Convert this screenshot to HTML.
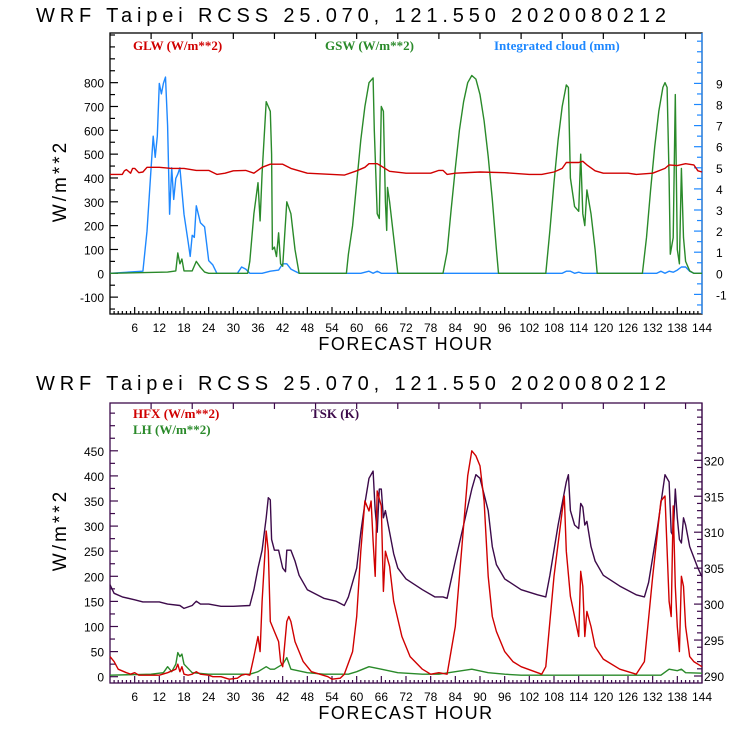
<!DOCTYPE html>
<html><head><meta charset="utf-8"><style>
html,body{margin:0;padding:0;background:#fff;width:740px;height:740px;overflow:hidden}
svg text{font-family:"Liberation Sans",sans-serif}
.lg{font-family:"Liberation Serif",serif;font-weight:bold;font-size:13px}
</style></head><body>
<svg id="chart" width="740" height="740" viewBox="0 0 740 740" xmlns="http://www.w3.org/2000/svg">
<text x="36" y="22" font-size="20" textLength="630" lengthAdjust="spacing">WRF  Taipei RCSS   25.070, 121.550  2020080212</text>
<text x="36" y="390" font-size="20" textLength="630" lengthAdjust="spacing">WRF  Taipei RCSS   25.070, 121.550  2020080212</text>
<g id="topPanel"></g>
<g id="botPanel"></g>
<text class="lg" x="133" y="50" fill="#d00000">GLW (W/m**2)</text>
<text class="lg" x="325" y="50" fill="#2a8a2a">GSW (W/m**2)</text>
<text class="lg" x="494" y="50" fill="#1e88ff">Integrated cloud (mm)</text>
<text class="lg" x="133" y="418" fill="#d00000">HFX (W/m**2)</text>
<text class="lg" x="133" y="434" fill="#2a8a2a">LH  (W/m**2)</text>
<text class="lg" x="311" y="418" fill="#3c0a4a">TSK (K)</text>
<text transform="translate(66,181) rotate(-90)" text-anchor="middle" font-size="19" letter-spacing="3">W/m**2</text>
<text transform="translate(66,530) rotate(-90)" text-anchor="middle" font-size="19" letter-spacing="3">W/m**2</text>
<text x="406" y="350" text-anchor="middle" font-size="18" letter-spacing="1.5">FORECAST HOUR</text>
<text x="406" y="719" text-anchor="middle" font-size="18" letter-spacing="1.5">FORECAST HOUR</text>
</svg>
<script>
const glwH=[0,3,3.5,4,5,5.5,6,7,8,9,12,15,18,21,24,26,28,30,33,35,37,39,42,44,48,54,57,60,62,63,65,66,68,72,78,80,81,82,84,90,96,102,105,108,110,111,114,115,116,118,120,126,128,132,135,136,138,140,142,143,144];
const glwV=[415,415,430,435,420,440,440,422,425,445,445,440,440,432,432,415,420,430,432,420,445,458,458,440,420,415,412,430,445,460,460,450,428,420,420,432,432,415,420,425,422,415,415,425,440,465,465,470,455,430,420,420,415,420,440,455,452,460,455,430,425];
const gswH=[0,14,16,16.5,17,17.5,18,20,21,22,23,24,33.5,34,35,36,36.5,37,38,38.5,39,39.3,39.5,40,40.5,41,41.5,42,43,44,45,46,57.5,58,59,60,61,62,63,64,64.3,65,65.5,66,66.5,67,67.3,67.5,68,69,70,81,82,83,84,85,86,87,88,89,90,91,92,93,94,94.5,106,107,108,109,110,111,111.5,112,113,114,114.5,115,115.5,116,117,118,118.5,129.5,130.5,131.5,132.5,133.5,134.5,135,135.5,136,136.3,137,137.5,138,138.5,139,139.5,140,141,142,144];
const gswV=[0,5,10,85,40,60,10,10,50,25,5,0,0,50,250,380,220,420,720,700,680,500,100,110,70,170,40,30,300,250,100,0,0,80,200,380,560,700,800,820,600,250,230,700,680,300,180,360,300,150,0,0,90,270,440,600,720,800,830,815,750,640,490,310,100,0,0,180,380,560,700,790,780,400,280,260,500,250,200,350,250,100,0,0,150,350,530,680,780,800,780,400,80,150,750,100,40,440,150,50,10,0,0];
const cldH=[0,8,9,10,10.5,11,11.5,12,12.5,13,13.5,14,14.5,15,15.5,16,16.5,17,18,19,19.5,20,20.5,21,22,23,24,25,26,31,32,33,34,37,39,41,42,43,44,45,46,61,63,64,65,66,110,111,112,113,114,115,133,134,135,136,137,138,139,140,141,142,144];
const cldV=[0,0.1,2,5,6.5,5.5,6.5,9,8.5,9,9.3,7,2.8,5,3.5,4.5,4.7,5,2.8,1.5,0.8,1.8,1.7,3.2,2.4,2.2,0.6,0.4,0,0,0.3,0.2,0,0,0.1,0.15,0.45,0.45,0.2,0.1,0,0,0.1,0,0.1,0,0,0.1,0.1,0,0.05,0,0,0.1,0,0.1,0.05,0.15,0.3,0.3,0.1,0,0];
const hfxH=[0,1,2,4,5,6,7,12,14,16,16.5,17,17.5,18,19,20,21,22,24,25,27,29,31,32,33,34,35,36,36.5,37,38,38.5,39,40,41,41.5,42,43,43.5,44,45,47,49,51,53,54,56,57,59,60,61,62,63,63.5,64,64.5,65,66,66.5,67,68,69,71,73,76,78,80,82,84,86,87,88,89,90,91,92,93,94,96,98,100,105,106,108,110,110.5,111,112,113,114,114.5,115,115.5,116,117,118,120,124,128,130,132,134,135,136,136.5,137,137.5,138,138.5,139,139.5,140,141,142,144];
const hfxV=[40,30,15,8,5,8,3,3,8,15,25,10,20,5,3,5,10,5,3,0,0,-5,-3,3,5,3,40,80,50,150,290,250,110,90,70,30,20,110,120,110,70,30,10,5,0,-5,-3,5,50,120,250,350,330,350,270,200,370,340,170,250,220,150,80,40,15,5,8,5,100,300,400,450,440,420,350,200,120,90,50,30,20,5,20,200,330,360,250,160,120,80,210,180,80,130,100,60,35,15,5,30,200,350,360,150,120,340,180,100,50,200,180,100,40,30,20];
const lhH=[0,10,13,14,15,16,16.5,17,17.5,18,20,24,34,36,38,39,40,42,43,44,48,52,58,60,63,66,70,76,80,84,88,92,96,100,134,136,138,139,140,144];
const lhV=[3,5,8,20,10,25,48,40,45,25,8,5,5,10,20,15,15,25,38,15,8,5,5,10,20,15,8,5,5,10,15,8,5,3,3,15,12,15,8,7];
const tskH=[0,1,3,6,8,12,14,17,18,20,21,22,24,27,30,34,35,36,37,38,38.5,39,39.3,40,41,42,42.7,43,44,45,46,48,52,55,57,58,60,61,62,63,64,64.5,65,65.5,66,66.5,67,68,69,70,72,76,79,81,82,84,86,88,89,90,92,93,94,96,100,104,106,107,109,111,111.5,112,113,114,114.5,115,115.5,116,117,118,120,124,128,130,131,133,135,136,136.5,137,137.5,138,138.5,139,139.5,140,141,142,143,144];
const tskV=[302.7,301.5,301,300.6,300.3,300.3,300,299.8,299.4,299.8,300.4,300,300,299.7,299.7,299.8,302,305,307.5,312,314.8,314.5,309,307.5,307.5,305,304.5,307.5,307.5,306,304,302,300.8,300.4,299.8,301,305,310,314,317.5,318.5,313,310,316,316,312,313,310,307,305,303.5,302,301,301,300.8,306,311,316,318,317.5,313,308,305.5,303.5,302,301.3,301,304,311,317,318,313,311,310.5,314,313.5,311,311.5,308,306,304,302.5,301.3,301,303,310,318,317,310,309.5,316,312,309,308.5,312,311,308,306.5,305,303.8];
const xTicks=[6,12,18,24,30,36,42,48,54,60,66,72,78,84,90,96,102,108,114,120,126,132,138,144];
const topLeftTicks=[-100,0,100,200,300,400,500,600,700,800];
const topRightTicks=[-1,0,1,2,3,4,5,6,7,8,9];
const botLeftTicks=[0,50,100,150,200,250,300,350,400,450];
const botRightTicks=[290,295,300,305,310,315,320];

const NS='http://www.w3.org/2000/svg';
const X0=110,X1=702;
const xs=h=>X0+h*(X1-X0)/144;
const yTopL=v=>273.3-v*0.2383;
const yTopR=v=>273.3-v*21.1;
const yBotL=v=>676.7-v*0.502;
const yBotR=v=>676-(v-290)*7.19;
function el(p,t,a){const e=document.createElementNS(NS,t);for(const k in a)e.setAttribute(k,a[k]);p.appendChild(e);return e;}
function line(p,x1,y1,x2,y2,c,n){const l=el(p,'line',{x1:x1,y1:y1,x2:x2,y2:y2,stroke:c,'stroke-width':1.2});

return l;}
function txt(p,x,y,s,anchor,c,n){const t=el(p,'text',{x:x,y:y,'text-anchor':anchor,'font-size':12,fill:c,'font-family':'Liberation Mono, monospace'});t.textContent=s;

return t;}
function series(p,H,V,fy,c,n){const m=Math.min(H.length,V.length);const pts=[];for(let i=0;i<m;i++)pts.push(xs(H[i]).toFixed(1)+','+fy(V[i]).toFixed(1));
const pl=el(p,'polyline',{points:pts.join(' '),fill:'none',stroke:c,'stroke-width':1.4,'stroke-linejoin':'round'});

}
function panel(g,ty,by,frame,rc,lTicks,fyL,lMinorStep,lMin,lMax,rTicks,fyR,rMinorStep,rMin,rMax,rOff){
  const f=el(g,'rect',{x:X0,y:ty,width:X1-X0,height:by-ty,fill:'none',stroke:frame,'stroke-width':1.3});
  
  
  line(g,X1,ty,X1,by,rc,'right-axis');
  for(let h=1;h<144;h++){const L=h%6==0?7:3;line(g,xs(h),by,xs(h),by-L,frame,'x-tick');}
  for(let h=10;h<144;h+=10){line(g,xs(h),ty,xs(h),ty+6,frame,'top-tick');}
  xTicks.forEach(h=>txt(g,xs(h),by+18,String(h),'middle','#000','x-tick-label'));
  for(let v=lMin;v<=lMax;v+=lMinorStep){const y=fyL(v);if(y>ty+1&&y<by-1)line(g,X0,y,X0+(lTicks.includes(v)?8:5),y,frame,'y-tick');}
  lTicks.forEach(v=>txt(g,X0-6,fyL(v)+5,String(v),'end','#000','y-tick-label'));
  for(let v=rMin;v<=rMax+1e-6;v+=rMinorStep){const y=fyR(v);if(y>ty+1&&y<by-1)line(g,X1,y,X1-(Math.abs(v-Math.round(v))<1e-6&&rTicks.includes(Math.round(v))?8:5),y,rc,'right-tick');}
  rTicks.forEach(v=>txt(g,X1+rOff,fyR(v)+5,String(v),'start','#000','right-tick-label'));
}
const topG=document.getElementById('topPanel'),botG=document.getElementById('botPanel');
panel(topG,33,314,'#000','#1e88ff',topLeftTicks,yTopL,50,-150,1000,topRightTicks,yTopR,0.5,-2,13,14);
series(topG,cldH,cldV,yTopR,'#1e88ff','cloud-line');
series(topG,gswH,gswV,yTopL,'#2a8a2a','gsw-line');
series(topG,glwH,glwV,yTopL,'#d00000','glw-line');
panel(botG,403,683,'#3c0a4a','#3c0a4a',botLeftTicks,yBotL,25,0,550,botRightTicks,yBotR,1,289,328,2);
series(botG,lhH,lhV,yBotL,'#2a8a2a','lh-line');
series(botG,tskH,tskV,yBotR,'#3c0a4a','tsk-line');
series(botG,hfxH,hfxV,yBotL,'#d00000','hfx-line');
</script>
</body></html>
